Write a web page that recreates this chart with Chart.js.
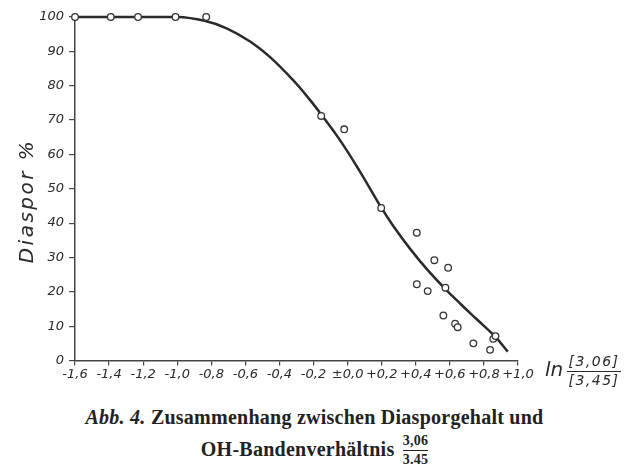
<!DOCTYPE html>
<html>
<head>
    <meta charset="UTF-8">
    <title>Diaspor</title>
    <script src="https://cdn.jsdelivr.net/npm/chart.js"></script>
    <style>
        body {
            margin: 0;
            background: #fff;
            width: 629px;
            height: 465px;
            overflow: hidden;
            position: relative;
        }

        #chart {
            position: absolute;
            left: 0;
            top: 0;
        }

        .caption {
            position: absolute;
            left: 0;
            width: 629px;
            text-align: center;
            font-family: "Liberation Serif", serif;
            font-weight: bold;
            font-size: 20px;
            line-height: 22px;
            letter-spacing: 0.25px;
            color: #222;
            white-space: nowrap;
        }

        .frac {
            display: inline-block;
            vertical-align: middle;
            text-align: center;
            font-size: 14px;
            line-height: 18px;
            margin-left: 3px;
            position: relative;
            top: -1px;
        }

        .frac span {
            display: block;
        }

        .frac .den {
            border-top: 1px solid #222;
        }
    </style>
</head>
<body>
<canvas id="chart" width="629" height="395"></canvas>
<div class="caption" style="top: 406px;"><i>Abb. 4.</i> Zusammenhang zwischen Diasporgehalt und</div>
<div class="caption" style="top: 433px;">OH-Bandenverhältnis <span class="frac"><span>3,06</span><span class="den">3.45</span></span></div>

<script>
    // Messpunkte
    const pointX = [-1.6, -1.39, -1.23, -1.01, -0.83, -0.155, -0.02, 0.197, 0.406, 0.509, 0.59,
        0.406, 0.47, 0.574, 0.562, 0.631, 0.646, 0.738, 0.836, 0.855, 0.868];
    const pointY = [100, 100, 100, 100, 100, 71.2, 67.3, 44.4, 37.2, 29.2, 27.0,
        22.2, 20.2, 21.2, 13.1, 10.7, 9.7, 5.0, 3.1, 6.3, 7.1];

    // Ausgleichskurve
    const curveX = [-1.6, -1.0, -0.84, -0.71, -0.57, -0.455, -0.32, -0.22, -0.15, -0.04, 0.07,
        0.195, 0.27, 0.367, 0.465, 0.574, 0.66, 0.758, 0.865, 0.94];
    const curveY = [100, 100, 98.9, 96.7, 92.8, 88.3, 81.6, 75.8, 71.3, 63.8, 55.2,
        44.7, 39.0, 32.5, 26.6, 20.8, 16.6, 12.0, 7.0, 2.6];

    const xTicks = [-1.6, -1.4, -1.2, -1.0, -0.8, -0.6, -0.4, -0.2, 0, 0.2, 0.4, 0.6, 0.8, 1.0];
    const xTickLabels = ['-1,6', '-1,4', '-1,2', '-1,0', '-0,8', '-0,6', '-0,4', '-0,2', '±0,0',
        '+0,2', '+0,4', '+0,6', '+0,8', '+1,0'];
    const yTicks = [0, 10, 20, 30, 40, 50, 60, 70, 80, 90, 100];
    const yTickLabels = ['0', '10', '20', '30', '40', '50', '60', '70', '80', '90', '100'];

    const yTitle = 'Diaspor %';
    const xTitle = 'ln';
    const xTitleNum = '[3,06]';
    const xTitleDen = '[3,45]';

    const ink = '#2a2a2a';
    const tickFont = {family: 'DejaVu Sans', style: 'italic', size: 13};

    const axisTitles = {
        id: 'axisTitles',
        afterDraw(chart) {
            const ctx = chart.ctx;
            ctx.save();
            ctx.fillStyle = ink;
            ctx.strokeStyle = ink;

            // y title, rotated
            ctx.font = 'italic 20px "DejaVu Sans"';
            ctx.letterSpacing = '2.5px';
            ctx.translate(28, 201);
            ctx.rotate(-Math.PI / 2);
            ctx.textAlign = 'center';
            ctx.textBaseline = 'middle';
            ctx.fillText(yTitle, 0, 0);
            ctx.setTransform(1, 0, 0, 1, 0, 0);

            // x title with fraction
            ctx.letterSpacing = '0px';
            ctx.textAlign = 'left';
            ctx.font = 'italic 20px "DejaVu Sans"';
            ctx.fillText(xTitle, 545, 371);
            ctx.font = 'italic 14px "DejaVu Sans"';
            ctx.letterSpacing = '1.5px';
            ctx.textAlign = 'center';
            ctx.fillText(xTitleNum, 594, 362);
            ctx.fillText(xTitleDen, 594, 381);
            ctx.lineWidth = 1.2;
            ctx.beginPath();
            ctx.moveTo(567, 371.5);
            ctx.lineTo(621, 371.5);
            ctx.stroke();
            ctx.restore();
        }
    };

    new Chart(document.getElementById('chart'), {
        type: 'scatter',
        data: {
            datasets: [{
                label: 'Messwerte',
                data: pointX.map((x, i) => ({x: x, y: pointY[i]})),
                showLine: false,
                clip: false,
                pointRadius: 3.3,
                pointBorderWidth: 1.3,
                pointBorderColor: '#333',
                pointBackgroundColor: '#fff'
            }, {
                label: 'Kurve',
                data: curveX.map((x, i) => ({x: x, y: curveY[i]})),
                showLine: true,
                clip: false,
                pointRadius: 0,
                borderColor: ink,
                borderWidth: 2.5,
                tension: 0.4
            }]
        },
        options: {
            responsive: false,
            animation: false,
            layout: {padding: {top: 17, right: 111, left: 0, bottom: 0}},
            plugins: {
                legend: {display: false},
                tooltip: {enabled: false}
            },
            scales: {
                x: {
                    type: 'linear',
                    min: -1.6,
                    max: 1.0,
                    afterFit: s => { s.height = 395 - 17 - 343.5; },
                    afterBuildTicks: s => { s.ticks = xTicks.map(v => ({value: v})); },
                    grid: {drawOnChartArea: false, tickLength: 5, color: '#444', lineWidth: 1.2},
                    border: {color: '#444', width: 1.5},
                    ticks: {
                        padding: 1,
                        color: ink,
                        font: tickFont,
                        maxRotation: 0,
                        autoSkip: false,
                        callback: (v, i) => xTickLabels[i]
                    }
                },
                y: {
                    min: 0,
                    max: 100,
                    afterFit: s => { s.width = 75; },
                    afterBuildTicks: s => { s.ticks = yTicks.map(v => ({value: v})); },
                    grid: {drawOnChartArea: false, tickLength: 6, color: '#444', lineWidth: 1.2},
                    border: {color: '#444', width: 1.5},
                    ticks: {
                        padding: 5,
                        color: ink,
                        font: tickFont,
                        autoSkip: false,
                        callback: (v, i) => yTickLabels[i]
                    }
                }
            }
        },
        plugins: [axisTitles]
    });
</script>
</body>
</html>
